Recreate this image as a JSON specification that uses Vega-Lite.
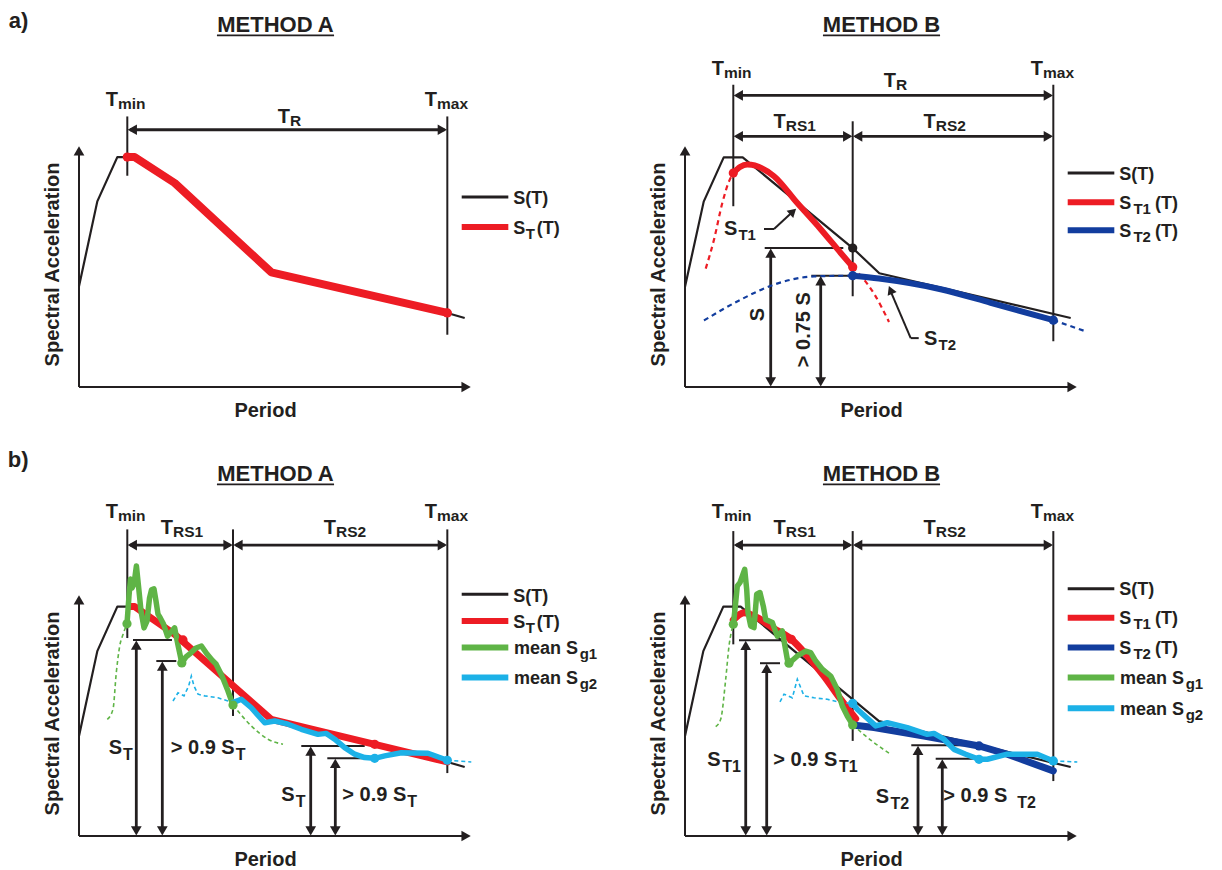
{
"$schema":"https://vega.github.io/schema/vega-lite/v6.json",
"padding":{"left":7,"top":9,"right":0,"bottom":0},
"background":"white",
"config":{
 "view":{"stroke":null},
 "font":"Liberation Sans",
 "axis":{"titleFont":"Liberation Sans","titleFontSize":20,"titleFontWeight":"bold","titleColor":"#231f20","domain":false,"ticks":false,"labels":false,"grid":false},
 "text":{"font":"Liberation Sans","fontWeight":"bold","color":"#231f20"}
},
"columns":2,
"spacing":{"row":207,"column":213},
"bounds":"flush",
"datasets":{
 "aA_r":[
  {"k":"line","x":0,"y":0,"x2":0,"y2":9.7},{"k":"line","x":0,"y":0,"x2":9.8,"y2":0},
  {"k":"line","x":1.229,"y":8.73,"x2":1.229,"y2":11.18},{"k":"line","x":9.372,"y":2.16,"x2":9.372,"y2":11.18},
  {"k":"arrow","x":1.3,"y":10.63,"x2":9.3,"y2":10.63},
  {"k":"ul","x":3.51,"y":14.53,"x2":6.49,"y2":14.53}],
 "aA_h":[
  {"dir":"up","x":0,"y":9.76},{"dir":"right","x":9.85,"y":0},
  {"dir":"left","x":1.356,"y":10.63},{"dir":"right","x":9.245,"y":10.63}],
 "aA_l":[
  {"s":"S","x":0,"y":4.16},{"s":"S","x":0.466,"y":7.67},{"s":"S","x":0.975,"y":9.5},{"s":"S","x":1.417,"y":9.5},{"s":"S","x":2.435,"y":8.43},{"s":"S","x":4.893,"y":4.74},{"s":"S","x":9.372,"y":3.06},{"s":"S","x":9.814,"y":2.85},
  {"s":"ST","x":1.229,"y":9.5},{"s":"ST","x":1.417,"y":9.5},{"s":"ST","x":2.435,"y":8.43},{"s":"ST","x":4.893,"y":4.74},{"s":"ST","x":9.372,"y":3.06}],
 "aA_d":[{"s":"ST","x":1.229,"y":9.5},{"s":"ST","x":9.372,"y":3.06}],
 "aA_g":[{"s":"S","x":9.738,"x2":10.924,"y":7.85},{"s":"ST","x":9.738,"x2":10.924,"y":6.61}],
 "aA_t":[
  {"p":"tag","t":"a)","x":-1.789,"y":14.85},
  {"p":"head","t":"METHOD A","x":5.0,"y":14.68},
  {"p":"R","t":"T","x":0.992,"y":11.63},{"p":"t","t":"min","x":0.992,"y":11.63},
  {"p":"R","t":"T","x":5.369,"y":10.91},{"p":"t","t":"R","x":5.369,"y":10.91},
  {"p":"R","t":"T","x":9.109,"y":11.63},{"p":"t","t":"max","x":9.109,"y":11.63},
  {"p":"L","t":"S(T)","x":11.051,"y":7.58},
  {"p":"L","t":"S","x":11.051,"y":6.34},{"p":"s","t":"T","x":11.37,"y":6.34},{"p":"L","t":"(T)","x":11.65,"y":6.34}],
 "aB_r":[
  {"k":"line","x":0,"y":0,"x2":0,"y2":9.7},{"k":"line","x":0,"y":0,"x2":9.8,"y2":0},
  {"k":"line","x":1.229,"y":7.47,"x2":1.229,"y2":12.49},{"k":"line","x":4.267,"y":3.75,"x2":4.267,"y2":10.98},{"k":"line","x":9.372,"y":1.89,"x2":9.372,"y2":12.49},
  {"k":"arrow","x":1.3,"y":12.05,"x2":9.3,"y2":12.05},
  {"k":"arrow","x":1.3,"y":10.36,"x2":4.2,"y2":10.36},{"k":"arrow","x":4.33,"y":10.36,"x2":9.3,"y2":10.36},
  {"k":"arrow","x":2.181,"y":0.2,"x2":2.181,"y2":5.55},{"k":"arrow","x":3.453,"y":0.2,"x2":3.453,"y2":4.4},
  {"k":"line","x":2.028,"y":5.74,"x2":4.028,"y2":5.74},{"k":"line","x":3.214,"y":4.6,"x2":4.267,"y2":4.6},
  {"k":"line","x":2.01,"y":6.53,"x2":2.265,"y2":6.53},{"k":"line","x":2.265,"y":6.53,"x2":2.76,"y2":7.27},
  {"k":"line","x":5.947,"y":2.02,"x2":5.743,"y2":2.02},{"k":"line","x":5.743,"y":2.02,"x2":5.22,"y2":4.0},
  {"k":"ul","x":3.51,"y":14.53,"x2":6.49,"y2":14.53}],
 "aB_h":[
  {"dir":"up","x":0,"y":9.76},{"dir":"right","x":9.85,"y":0},
  {"dir":"left","x":1.356,"y":12.05},{"dir":"right","x":9.245,"y":12.05},
  {"dir":"left","x":1.356,"y":10.36},{"dir":"right","x":4.14,"y":10.36},
  {"dir":"left","x":4.394,"y":10.36},{"dir":"right","x":9.245,"y":10.36},
  {"dir":"down","x":2.181,"y":0.21},{"dir":"up","x":2.181,"y":5.53},
  {"dir":"down","x":3.453,"y":0.21},{"dir":"up","x":3.453,"y":4.39},
  {"dir":"ne","x":2.748,"y":7.25},{"dir":"nw","x":5.229,"y":4.01}],
 "aB_l":[
  {"s":"S","x":0,"y":4.14},{"s":"S","x":0.476,"y":7.66},{"s":"S","x":0.985,"y":9.49},{"s":"S","x":1.468,"y":9.49},{"s":"S","x":4.267,"y":5.74},{"s":"S","x":4.944,"y":4.7},{"s":"S","x":9.814,"y":2.85},
  {"s":"ST1x","x":0.527,"y":4.89},{"s":"ST1x","x":0.738,"y":6.09},{"s":"ST1x","x":0.949,"y":7.6},{"s":"ST1x","x":1.12,"y":8.5},{"s":"ST1x","x":1.229,"y":8.84},
  {"s":"ST1","x":1.229,"y":8.84},{"s":"ST1","x":1.399,"y":9.09},{"s":"ST1","x":1.585,"y":9.19},{"s":"ST1","x":2.265,"y":8.71},{"s":"ST1","x":2.858,"y":7.6},{"s":"ST1","x":3.453,"y":6.52},{"s":"ST1","x":3.962,"y":5.54},{"s":"ST1","x":4.267,"y":4.96},
  {"s":"ST1y","x":4.267,"y":4.96},{"s":"ST1y","x":4.809,"y":3.86},{"s":"ST1y","x":5.191,"y":2.69},
  {"s":"ST2x","x":0.483,"y":2.75},{"s":"ST2x","x":1.417,"y":3.61},{"s":"ST2x","x":2.265,"y":4.23},{"s":"ST2x","x":3.282,"y":4.57},{"s":"ST2x","x":4.267,"y":4.6},
  {"s":"ST2","x":4.267,"y":4.6},{"s":"ST2","x":4.936,"y":4.48},{"s":"ST2","x":6.506,"y":4.04},{"s":"ST2","x":7.779,"y":3.48},{"s":"ST2","x":9.372,"y":2.76},
  {"s":"ST2y","x":9.372,"y":2.76},{"s":"ST2y","x":10.196,"y":2.3}],
 "aB_d":[{"s":"S","x":4.267,"y":5.74},{"s":"ST","x":1.229,"y":8.84},{"s":"ST","x":4.267,"y":4.96},{"s":"ST2","x":4.267,"y":4.6},{"s":"ST2","x":9.372,"y":2.76}],
 "aB_g":[{"s":"S","x":9.738,"x2":10.924,"y":8.84},{"s":"ST","x":9.738,"x2":10.924,"y":7.63},{"s":"ST2","x":9.738,"x2":10.924,"y":6.48}],
 "aB_t":[
  {"p":"head","t":"METHOD B","x":5.0,"y":14.68},
  {"p":"R","t":"T","x":0.992,"y":12.91},{"p":"t","t":"min","x":0.992,"y":12.91},
  {"p":"R","t":"T","x":5.369,"y":12.41},{"p":"t","t":"R","x":5.369,"y":12.41},
  {"p":"R","t":"T","x":9.109,"y":12.91},{"p":"t","t":"max","x":9.109,"y":12.91},
  {"p":"R","t":"T","x":2.562,"y":10.7},{"p":"t","t":"RS1","x":2.562,"y":10.7},
  {"p":"R","t":"T","x":6.379,"y":10.7},{"p":"t","t":"RS2","x":6.379,"y":10.7},
  {"p":"R","t":"S","x":1.331,"y":6.29},{"p":"s","t":"T1","x":1.36,"y":6.29},
  {"p":"R","t":"S","x":6.42,"y":1.75},{"p":"s","t":"T2","x":6.45,"y":1.75},
  {"p":"rot","t":"S","x":1.85,"y":2.99},{"p":"rot","t":"> 0.75 S","x":3.036,"y":2.37},
  {"p":"L","t":"S(T)","x":11.051,"y":8.57},
  {"p":"L","t":"S","x":11.051,"y":7.36},{"p":"s","t":"T1","x":11.41,"y":7.36},{"p":"L","t":"(T)","x":11.96,"y":7.36},
  {"p":"L","t":"S","x":11.051,"y":6.2},{"p":"s","t":"T2","x":11.41,"y":6.2},{"p":"L","t":"(T)","x":11.96,"y":6.2}],
 "bA_r":[
  {"k":"line","x":0,"y":0,"x2":0,"y2":9.7},{"k":"line","x":0,"y":0,"x2":9.8,"y2":0},
  {"k":"line","x":1.229,"y":8.18,"x2":1.229,"y2":12.67},{"k":"line","x":3.919,"y":4.96,"x2":3.919,"y2":12.67},{"k":"line","x":9.372,"y":2.6,"x2":9.372,"y2":12.67},
  {"k":"arrow","x":1.3,"y":12.02,"x2":3.85,"y2":12.02},{"k":"arrow","x":3.99,"y":12.02,"x2":9.3,"y2":12.02},
  {"k":"arrow","x":1.458,"y":0.2,"x2":1.458,"y2":7.9},{"k":"arrow","x":2.12,"y":0.2,"x2":2.12,"y2":7.03},
  {"k":"arrow","x":5.896,"y":0.2,"x2":5.896,"y2":3.52},{"k":"arrow","x":6.522,"y":0.2,"x2":6.522,"y2":3.01},
  {"k":"line","x":1.374,"y":8.1,"x2":2.366,"y2":8.1},{"k":"line","x":1.967,"y":7.23,"x2":2.476,"y2":7.23},
  {"k":"line","x":5.656,"y":3.72,"x2":7.27,"y2":3.72},{"k":"line","x":6.318,"y":3.21,"x2":7.438,"y2":3.21},
  {"k":"ul","x":3.51,"y":14.53,"x2":6.49,"y2":14.53}],
 "bA_h":[
  {"dir":"up","x":0,"y":9.76},{"dir":"right","x":9.85,"y":0},
  {"dir":"left","x":1.356,"y":12.02},{"dir":"right","x":3.792,"y":12.02},
  {"dir":"left","x":4.046,"y":12.02},{"dir":"right","x":9.245,"y":12.02},
  {"dir":"down","x":1.458,"y":0.21},{"dir":"up","x":1.458,"y":7.89},
  {"dir":"down","x":2.12,"y":0.21},{"dir":"up","x":2.12,"y":7.02},
  {"dir":"down","x":5.896,"y":0.21},{"dir":"up","x":5.896,"y":3.51},
  {"dir":"down","x":6.522,"y":0.21},{"dir":"up","x":6.522,"y":3.0}],
 "bA_l":[
  {"s":"S","x":0,"y":4.13},{"s":"S","x":0.466,"y":7.64},{"s":"S","x":0.975,"y":9.48},{"s":"S","x":1.417,"y":9.48},{"s":"S","x":2.435,"y":8.33},{"s":"S","x":4.893,"y":4.82},{"s":"S","x":9.372,"y":3.06},{"s":"S","x":9.814,"y":2.85},
  {"s":"ST","x":1.29,"y":9.48},{"s":"ST","x":1.417,"y":9.48},{"s":"ST","x":2.435,"y":8.33},{"s":"ST","x":4.893,"y":4.82},{"s":"ST","x":9.372,"y":3.06},
  {"s":"Sg1x","x":0.72,"y":4.82},{"s":"Sg1x","x":0.865,"y":5.24},{"s":"Sg1x","x":0.949,"y":6.75},{"s":"Sg1x","x":1.036,"y":7.85},{"s":"Sg1x","x":1.12,"y":8.33},{"s":"Sg1x","x":1.221,"y":8.77},
  {"s":"Sg1","x":1.221,"y":8.76},{"s":"Sg1","x":1.272,"y":9.92},{"s":"Sg1","x":1.31,"y":10.62},{"s":"Sg1","x":1.349,"y":10.25},{"s":"Sg1","x":1.399,"y":10.41},{"s":"Sg1","x":1.461,"y":11.16},{"s":"Sg1","x":1.514,"y":10.33},{"s":"Sg1","x":1.578,"y":9.3},{"s":"Sg1","x":1.654,"y":8.6},{"s":"Sg1","x":1.73,"y":8.88},{"s":"Sg1","x":1.794,"y":9.83},{"s":"Sg1","x":1.845,"y":10.17},{"s":"Sg1","x":1.908,"y":10.21},{"s":"Sg1","x":1.959,"y":9.71},{"s":"Sg1","x":2.01,"y":9.17},{"s":"Sg1","x":2.069,"y":9.01},{"s":"Sg1","x":2.15,"y":8.76},{"s":"Sg1","x":2.252,"y":8.26},{"s":"Sg1","x":2.341,"y":8.43},{"s":"Sg1","x":2.433,"y":8.6},{"s":"Sg1","x":2.524,"y":7.85},{"s":"Sg1","x":2.616,"y":7.15},{"s":"Sg1","x":2.723,"y":7.4},{"s":"Sg1","x":2.842,"y":7.56},{"s":"Sg1","x":2.977,"y":7.77},{"s":"Sg1","x":3.115,"y":7.85},{"s":"Sg1","x":3.257,"y":7.52},{"s":"Sg1","x":3.384,"y":7.27},{"s":"Sg1","x":3.486,"y":7.11},{"s":"Sg1","x":3.639,"y":6.61},{"s":"Sg1","x":3.791,"y":5.99},{"s":"Sg1","x":3.919,"y":5.41},
  {"s":"Sg1y","x":3.919,"y":5.41},{"s":"Sg1y","x":4.384,"y":4.55},{"s":"Sg1y","x":4.809,"y":4.0},{"s":"Sg1y","x":5.191,"y":3.79},
  {"s":"Sg2x","x":2.392,"y":5.58},{"s":"Sg2x","x":2.519,"y":5.92},{"s":"Sg2x","x":2.672,"y":5.79},{"s":"Sg2x","x":2.791,"y":6.2},{"s":"Sg2x","x":2.858,"y":6.61},{"s":"Sg2x","x":2.926,"y":6.2},{"s":"Sg2x","x":3.028,"y":5.86},{"s":"Sg2x","x":3.198,"y":5.79},{"s":"Sg2x","x":3.537,"y":5.71},{"s":"Sg2x","x":3.791,"y":5.58},{"s":"Sg2x","x":3.919,"y":5.51},
  {"s":"Sg2","x":3.919,"y":5.51},{"s":"Sg2","x":4.13,"y":5.65},{"s":"Sg2","x":4.384,"y":5.3},{"s":"Sg2","x":4.725,"y":4.68},{"s":"Sg2","x":4.98,"y":4.75},{"s":"Sg2","x":5.318,"y":4.62},{"s":"Sg2","x":5.656,"y":4.41},{"s":"Sg2","x":6.081,"y":4.2},{"s":"Sg2","x":6.293,"y":4.24},{"s":"Sg2","x":6.506,"y":4.0},{"s":"Sg2","x":6.761,"y":3.65},{"s":"Sg2","x":7.015,"y":3.38},{"s":"Sg2","x":7.27,"y":3.24},{"s":"Sg2","x":7.524,"y":3.21},{"s":"Sg2","x":7.779,"y":3.31},{"s":"Sg2","x":8.201,"y":3.44},{"s":"Sg2","x":8.88,"y":3.42},{"s":"Sg2","x":9.372,"y":3.13},
  {"s":"Sg2y","x":9.372,"y":3.13},{"s":"Sg2y","x":9.982,"y":3.06}],
 "bA_d":[{"s":"ST","x":2.646,"y":8.1},{"s":"ST","x":7.524,"y":3.79},{"s":"Sg1","x":1.221,"y":8.77},{"s":"Sg1","x":2.616,"y":7.15},{"s":"Sg1","x":3.919,"y":5.41},{"s":"Sg2","x":7.524,"y":3.21},{"s":"Sg2","x":9.372,"y":3.13}],
 "bA_g":[{"s":"S","x":9.738,"x2":10.924,"y":9.99},{"s":"ST","x":9.738,"x2":10.924,"y":8.88},{"s":"Sg1","x":9.738,"x2":10.924,"y":7.79},{"s":"Sg2","x":9.738,"x2":10.924,"y":6.55}],
 "bA_t":[
  {"p":"tag","t":"b)","x":-1.81,"y":15.24},
  {"p":"head","t":"METHOD A","x":5.0,"y":14.68},
  {"p":"R","t":"T","x":0.992,"y":13.12},{"p":"t","t":"min","x":0.992,"y":13.12},
  {"p":"R","t":"T","x":2.392,"y":12.5},{"p":"t","t":"RS1","x":2.392,"y":12.5},
  {"p":"R","t":"T","x":6.539,"y":12.5},{"p":"t","t":"RS2","x":6.539,"y":12.5},
  {"p":"R","t":"T","x":9.109,"y":13.12},{"p":"t","t":"max","x":9.109,"y":13.12},
  {"p":"RB","t":"S","x":1.094,"y":3.37},{"p":"s2","t":"T","x":1.12,"y":3.37},
  {"p":"RB","t":"> 0.9 S","x":3.962,"y":3.37},{"p":"s2","t":"T","x":3.99,"y":3.37},
  {"p":"RB","t":"S","x":5.489,"y":1.45},{"p":"s2","t":"T","x":5.515,"y":1.45},
  {"p":"RB","t":"> 0.9 S","x":8.328,"y":1.45},{"p":"s2","t":"T","x":8.355,"y":1.45},
  {"p":"L","t":"S(T)","x":11.051,"y":9.67},
  {"p":"L","t":"S","x":11.051,"y":8.61},{"p":"s","t":"T","x":11.37,"y":8.61},{"p":"L","t":"(T)","x":11.65,"y":8.61},
  {"p":"L","t":"mean S","x":11.07,"y":7.51},{"p":"s","t":"g1","x":12.74,"y":7.51},
  {"p":"L","t":"mean S","x":11.07,"y":6.27},{"p":"s","t":"g2","x":12.74,"y":6.27}],
 "bB_r":[
  {"k":"line","x":0,"y":0,"x2":0,"y2":9.7},{"k":"line","x":0,"y":0,"x2":9.8,"y2":0},
  {"k":"line","x":1.229,"y":7.92,"x2":1.229,"y2":12.6},{"k":"line","x":4.267,"y":3.93,"x2":4.267,"y2":12.6},{"k":"line","x":9.372,"y":2.27,"x2":9.372,"y2":12.6},
  {"k":"arrow","x":1.3,"y":12.02,"x2":4.2,"y2":12.02},{"k":"arrow","x":4.33,"y":12.02,"x2":9.3,"y2":12.02},
  {"k":"arrow","x":1.545,"y":0.2,"x2":1.545,"y2":7.89},{"k":"arrow","x":2.079,"y":0.2,"x2":2.079,"y2":6.94},
  {"k":"arrow","x":5.929,"y":0.2,"x2":5.929,"y2":3.55},{"k":"arrow","x":6.547,"y":0.2,"x2":6.547,"y2":2.99},
  {"k":"line","x":1.374,"y":8.09,"x2":2.435,"y2":8.09},{"k":"line","x":1.908,"y":7.14,"x2":2.417,"y2":7.14},
  {"k":"line","x":5.758,"y":3.75,"x2":7.354,"y2":3.75},{"k":"line","x":6.379,"y":3.19,"x2":7.354,"y2":3.19},
  {"k":"ul","x":3.51,"y":14.53,"x2":6.49,"y2":14.53}],
 "bB_h":[
  {"dir":"up","x":0,"y":9.76},{"dir":"right","x":9.85,"y":0},
  {"dir":"left","x":1.356,"y":12.02},{"dir":"right","x":4.14,"y":12.02},
  {"dir":"left","x":4.394,"y":12.02},{"dir":"right","x":9.245,"y":12.02},
  {"dir":"down","x":1.545,"y":0.21},{"dir":"up","x":1.545,"y":7.88},
  {"dir":"down","x":2.079,"y":0.21},{"dir":"up","x":2.079,"y":6.93},
  {"dir":"down","x":5.929,"y":0.21},{"dir":"up","x":5.929,"y":3.54},
  {"dir":"down","x":6.547,"y":0.21},{"dir":"up","x":6.547,"y":2.98}],
 "bB_l":[
  {"s":"S","x":0,"y":4.13},{"s":"S","x":0.466,"y":7.64},{"s":"S","x":0.975,"y":9.48},{"s":"S","x":1.417,"y":9.48},{"s":"S","x":4.936,"y":4.75},{"s":"S","x":9.814,"y":2.85},
  {"s":"ST1","x":1.229,"y":8.93},{"s":"ST1","x":1.501,"y":9.23},{"s":"ST1","x":1.84,"y":9.02},{"s":"ST1","x":2.265,"y":8.57},{"s":"ST1","x":2.705,"y":8.13},{"s":"ST1","x":3.112,"y":7.44},{"s":"ST1","x":3.537,"y":6.61},{"s":"ST1","x":3.962,"y":5.65},{"s":"ST1","x":4.344,"y":4.85},
  {"s":"ST2","x":4.267,"y":4.59},{"s":"ST2","x":4.809,"y":4.48},{"s":"ST2","x":6.081,"y":4.13},{"s":"ST2","x":7.481,"y":3.72},{"s":"ST2","x":8.201,"y":3.38},{"s":"ST2","x":9.372,"y":2.69},
  {"s":"Sg1x","x":0.781,"y":4.52},{"s":"Sg1x","x":0.908,"y":4.82},{"s":"Sg1x","x":1.036,"y":6.48},{"s":"Sg1x","x":1.12,"y":7.85},{"s":"Sg1x","x":1.229,"y":8.75},
  {"s":"Sg1","x":1.229,"y":8.71},{"s":"Sg1","x":1.272,"y":9.37},{"s":"Sg1","x":1.331,"y":10.33},{"s":"Sg1","x":1.399,"y":10.47},{"s":"Sg1","x":1.458,"y":10.74},{"s":"Sg1","x":1.519,"y":11.02},{"s":"Sg1","x":1.57,"y":10.19},{"s":"Sg1","x":1.603,"y":9.23},{"s":"Sg1","x":1.672,"y":8.68},{"s":"Sg1","x":1.756,"y":8.61},{"s":"Sg1","x":1.824,"y":9.99},{"s":"Sg1","x":1.908,"y":10.06},{"s":"Sg1","x":1.992,"y":9.5},{"s":"Sg1","x":2.053,"y":8.95},{"s":"Sg1","x":2.221,"y":8.82},{"s":"Sg1","x":2.349,"y":8.26},{"s":"Sg1","x":2.476,"y":8.47},{"s":"Sg1","x":2.603,"y":7.3},{"s":"Sg1","x":2.672,"y":7.17},{"s":"Sg1","x":2.858,"y":7.44},{"s":"Sg1","x":3.071,"y":7.64},{"s":"Sg1","x":3.198,"y":7.58},{"s":"Sg1","x":3.326,"y":7.23},{"s":"Sg1","x":3.494,"y":6.89},{"s":"Sg1","x":3.707,"y":6.61},{"s":"Sg1","x":3.875,"y":6.06},{"s":"Sg1","x":4.003,"y":5.37},{"s":"Sg1","x":4.13,"y":4.96},{"s":"Sg1","x":4.267,"y":4.59},
  {"s":"Sg1y","x":4.267,"y":4.59},{"s":"Sg1y","x":4.809,"y":3.86},{"s":"Sg1y","x":5.191,"y":3.42},
  {"s":"Sg2x","x":2.417,"y":5.54},{"s":"Sg2x","x":2.519,"y":5.86},{"s":"Sg2x","x":2.73,"y":5.71},{"s":"Sg2x","x":2.858,"y":6.48},{"s":"Sg2x","x":3.028,"y":5.79},{"s":"Sg2x","x":3.282,"y":5.71},{"s":"Sg2x","x":3.621,"y":5.65},{"s":"Sg2x","x":3.962,"y":5.51},{"s":"Sg2x","x":4.267,"y":5.48},
  {"s":"Sg2","x":4.267,"y":5.48},{"s":"Sg2","x":4.384,"y":5.24},{"s":"Sg2","x":4.852,"y":4.55},{"s":"Sg2","x":5.148,"y":4.68},{"s":"Sg2","x":5.656,"y":4.48},{"s":"Sg2","x":6.165,"y":4.2},{"s":"Sg2","x":6.336,"y":4.24},{"s":"Sg2","x":6.59,"y":4.0},{"s":"Sg2","x":6.845,"y":3.58},{"s":"Sg2","x":7.142,"y":3.38},{"s":"Sg2","x":7.481,"y":3.17},{"s":"Sg2","x":7.692,"y":3.17},{"s":"Sg2","x":8.201,"y":3.38},{"s":"Sg2","x":8.964,"y":3.38},{"s":"Sg2","x":9.372,"y":3.1},
  {"s":"Sg2y","x":9.372,"y":3.1},{"s":"Sg2y","x":9.982,"y":3.06}],
 "bB_d":[{"s":"ST","x":2.705,"y":8.13},{"s":"ST2","x":7.481,"y":3.72},{"s":"Sg1","x":1.229,"y":8.75},{"s":"Sg1","x":2.646,"y":7.14},{"s":"Sg1","x":4.267,"y":4.59},{"s":"Sg2","x":4.267,"y":5.48},{"s":"Sg2","x":7.481,"y":3.17},{"s":"Sg2","x":9.372,"y":3.1}],
 "bB_g":[{"s":"S","x":9.738,"x2":10.924,"y":10.22},{"s":"ST","x":9.738,"x2":10.924,"y":9.02},{"s":"ST2","x":9.738,"x2":10.924,"y":7.79},{"s":"Sg1","x":9.738,"x2":10.924,"y":6.55},{"s":"Sg2","x":9.738,"x2":10.924,"y":5.28}],
 "bB_t":[
  {"p":"head","t":"METHOD B","x":5.0,"y":14.68},
  {"p":"R","t":"T","x":0.992,"y":13.12},{"p":"t","t":"min","x":0.992,"y":13.12},
  {"p":"R","t":"T","x":2.562,"y":12.5},{"p":"t","t":"RS1","x":2.562,"y":12.5},
  {"p":"R","t":"T","x":6.379,"y":12.5},{"p":"t","t":"RS2","x":6.379,"y":12.5},
  {"p":"R","t":"T","x":9.109,"y":13.12},{"p":"t","t":"max","x":9.109,"y":13.12},
  {"p":"RB","t":"S","x":0.908,"y":2.89},{"p":"s2","t":"T1","x":0.95,"y":2.89},
  {"p":"RB","t":"> 0.9 S","x":3.875,"y":2.89},{"p":"s2","t":"T1","x":3.919,"y":2.89},
  {"p":"RB","t":"S","x":5.191,"y":1.38},{"p":"s2","t":"T2","x":5.23,"y":1.38},
  {"p":"RB","t":"> 0.9 S","x":8.201,"y":1.4},{"p":"s2","t":"T2","x":8.456,"y":1.4},
  {"p":"L","t":"S(T)","x":11.051,"y":9.95},
  {"p":"L","t":"S","x":11.051,"y":8.75},{"p":"s","t":"T1","x":11.41,"y":8.75},{"p":"L","t":"(T)","x":11.96,"y":8.75},
  {"p":"L","t":"S","x":11.051,"y":7.51},{"p":"s","t":"T2","x":11.41,"y":7.51},{"p":"L","t":"(T)","x":11.96,"y":7.51},
  {"p":"L","t":"mean S","x":11.07,"y":6.27},{"p":"s","t":"g1","x":12.74,"y":6.27},
  {"p":"L","t":"mean S","x":11.07,"y":5.0},{"p":"s","t":"g2","x":12.74,"y":5.0}]
},
"concat":[
{
 "width":393,"height":242,
 "encoding":{
  "x":{"field":"x","type":"quantitative","scale":{"domain":[0,10],"nice":false,"zero":false},"axis":{"title":"Period","titleX":186,"titleY":29,"titleBaseline":"alphabetic","titleAlign":"center","titleAngle":0}},
  "y":{"field":"y","type":"quantitative","scale":{"domain":[0,10],"nice":false,"zero":false},"axis":{"title":"Spectral Acceleration","titleX":-21,"titleY":119,"titleAngle":270,"titleBaseline":"alphabetic","titleAlign":"center"}}
 },
 "layer":[
  {"data":{"name":"aA_r"},"transform":[{"filter":"datum.k==='line'"}],"mark":{"type":"rule","color":"#231f20","strokeWidth":2},"encoding":{"x2":{"field":"x2"},"y2":{"field":"y2"}}},
  {"data":{"name":"aA_r"},"transform":[{"filter":"datum.k==='arrow'"}],"mark":{"type":"rule","color":"#231f20","strokeWidth":2.8},"encoding":{"x2":{"field":"x2"},"y2":{"field":"y2"}}},
  {"data":{"name":"aA_r"},"transform":[{"filter":"datum.k==='ul'"}],"mark":{"type":"rule","color":"#231f20","strokeWidth":1.6},"encoding":{"x2":{"field":"x2"},"y2":{"field":"y2"}}},
  {"data":{"name":"aA_l"},"transform":[{"filter":"datum.s==='S'"}],"mark":{"type":"line","color":"#231f20","strokeWidth":2.2,"strokeJoin":"round"},"encoding":{}},
  {"data":{"name":"aA_l"},"transform":[{"filter":"datum.s==='ST'"}],"mark":{"type":"line","color":"#ed1c24","strokeWidth":8,"strokeJoin":"round","strokeCap":"round"},"encoding":{}},
  {"data":{"name":"aA_g"},"transform":[{"filter":"datum.s==='S'"}],"mark":{"type":"rule","color":"#231f20","strokeWidth":3},"encoding":{"x2":{"field":"x2"}}},
  {"data":{"name":"aA_g"},"transform":[{"filter":"datum.s!=='S'"}],"mark":{"type":"rule","strokeWidth":6},"encoding":{"x2":{"field":"x2"},"color":{"field":"s","type":"nominal","scale":{"domain":["S","ST","ST2","Sg1","Sg2"],"range":["#231f20","#ed1c24","#123d9e","#5fb446","#1cb1e7"]},"legend":null}}},
  {"data":{"name":"aA_d"},"mark":{"type":"point","filled":true,"size":85,"opacity":1},"encoding":{"color":{"field":"s","type":"nominal","scale":{"domain":["S","ST","ST2","Sg1","Sg2"],"range":["#231f20","#ed1c24","#123d9e","#5fb446","#1cb1e7"]},"legend":null}}},
  {"data":{"name":"aA_h"},"mark":{"type":"point","filled":true,"size":115,"opacity":1,"color":"#231f20"},"encoding":{"shape":{"field":"dir","type":"nominal","scale":{"domain":["up","down","left","right"],"range":["triangle-up","triangle-down","triangle-left","triangle-right"]},"legend":null}}},
  {"data":{"name":"aA_t"},"transform":[{"filter":"datum.p==='tag'"}],"mark":{"type":"text","align":"left","baseline":"alphabetic","fontSize":22},"encoding":{"text":{"field":"t"}}},
  {"data":{"name":"aA_t"},"transform":[{"filter":"datum.p==='head'"}],"mark":{"type":"text","align":"center","baseline":"alphabetic","fontSize":22},"encoding":{"text":{"field":"t"}}},
  {"data":{"name":"aA_t"},"transform":[{"filter":"datum.p==='R'"}],"mark":{"type":"text","align":"right","baseline":"alphabetic","fontSize":20},"encoding":{"text":{"field":"t"}}},
  {"data":{"name":"aA_t"},"transform":[{"filter":"datum.p==='L'"}],"mark":{"type":"text","align":"left","baseline":"alphabetic","fontSize":18},"encoding":{"text":{"field":"t"}}},
  {"data":{"name":"aA_t"},"transform":[{"filter":"datum.p==='t'"}],"mark":{"type":"text","align":"left","baseline":"alphabetic","fontSize":15.5,"dy":3},"encoding":{"text":{"field":"t"}}},
  {"data":{"name":"aA_t"},"transform":[{"filter":"datum.p==='s'"}],"mark":{"type":"text","align":"left","baseline":"alphabetic","fontSize":15,"dy":5},"encoding":{"text":{"field":"t"}}}
 ]
},
{
 "width":393,"height":242,
 "encoding":{
  "x":{"field":"x","type":"quantitative","scale":{"domain":[0,10],"nice":false,"zero":false},"axis":{"title":"Period","titleX":186,"titleY":29,"titleBaseline":"alphabetic","titleAlign":"center","titleAngle":0}},
  "y":{"field":"y","type":"quantitative","scale":{"domain":[0,10],"nice":false,"zero":false},"axis":{"title":"Spectral Acceleration","titleX":-21,"titleY":119,"titleAngle":270,"titleBaseline":"alphabetic","titleAlign":"center"}}
 },
 "layer":[
  {"data":{"name":"aB_r"},"transform":[{"filter":"datum.k==='line'"}],"mark":{"type":"rule","color":"#231f20","strokeWidth":2},"encoding":{"x2":{"field":"x2"},"y2":{"field":"y2"}}},
  {"data":{"name":"aB_r"},"transform":[{"filter":"datum.k==='arrow'"}],"mark":{"type":"rule","color":"#231f20","strokeWidth":2.8},"encoding":{"x2":{"field":"x2"},"y2":{"field":"y2"}}},
  {"data":{"name":"aB_r"},"transform":[{"filter":"datum.k==='ul'"}],"mark":{"type":"rule","color":"#231f20","strokeWidth":1.6},"encoding":{"x2":{"field":"x2"},"y2":{"field":"y2"}}},
  {"data":{"name":"aB_l"},"transform":[{"filter":"datum.s==='S'"}],"mark":{"type":"line","color":"#231f20","strokeWidth":2.2,"strokeJoin":"round"},"encoding":{}},
  {"data":{"name":"aB_l"},"transform":[{"filter":"datum.s==='ST1x' || datum.s==='ST1y'"}],"mark":{"type":"line","color":"#ed1c24","strokeWidth":2.2,"strokeDash":[5,4],"interpolate":"monotone"},"encoding":{"detail":{"field":"s"}}},
  {"data":{"name":"aB_l"},"transform":[{"filter":"datum.s==='ST2x' || datum.s==='ST2y'"}],"mark":{"type":"line","color":"#123d9e","strokeWidth":2.2,"strokeDash":[5,4],"interpolate":"monotone"},"encoding":{"detail":{"field":"s"}}},
  {"data":{"name":"aB_l"},"transform":[{"filter":"datum.s==='ST1'"}],"mark":{"type":"line","color":"#ed1c24","strokeWidth":6,"strokeCap":"round","interpolate":"monotone"},"encoding":{}},
  {"data":{"name":"aB_l"},"transform":[{"filter":"datum.s==='ST2'"}],"mark":{"type":"line","color":"#123d9e","strokeWidth":6,"strokeCap":"round","interpolate":"monotone"},"encoding":{}},
  {"data":{"name":"aB_g"},"transform":[{"filter":"datum.s==='S'"}],"mark":{"type":"rule","color":"#231f20","strokeWidth":3},"encoding":{"x2":{"field":"x2"}}},
  {"data":{"name":"aB_g"},"transform":[{"filter":"datum.s!=='S'"}],"mark":{"type":"rule","strokeWidth":6},"encoding":{"x2":{"field":"x2"},"color":{"field":"s","type":"nominal","scale":{"domain":["S","ST","ST2","Sg1","Sg2"],"range":["#231f20","#ed1c24","#123d9e","#5fb446","#1cb1e7"]},"legend":null}}},
  {"data":{"name":"aB_d"},"mark":{"type":"point","filled":true,"size":85,"opacity":1},"encoding":{"color":{"field":"s","type":"nominal","scale":{"domain":["S","ST","ST2","Sg1","Sg2"],"range":["#231f20","#ed1c24","#123d9e","#5fb446","#1cb1e7"]},"legend":null}}},
  {"data":{"name":"aB_h"},"transform":[{"filter":"datum.dir!=='ne' && datum.dir!=='nw'"}],"mark":{"type":"point","filled":true,"size":115,"opacity":1,"color":"#231f20"},"encoding":{"shape":{"field":"dir","type":"nominal","scale":{"domain":["up","down","left","right"],"range":["triangle-up","triangle-down","triangle-left","triangle-right"]},"legend":null}}},
  {"data":{"name":"aB_h"},"transform":[{"filter":"datum.dir==='ne'"}],"mark":{"type":"point","shape":"triangle-up","angle":47,"filled":true,"size":95,"opacity":1,"color":"#231f20"},"encoding":{}},
  {"data":{"name":"aB_h"},"transform":[{"filter":"datum.dir==='nw'"}],"mark":{"type":"point","shape":"triangle-up","angle":337,"filled":true,"size":95,"opacity":1,"color":"#231f20"},"encoding":{}},
  {"data":{"name":"aB_t"},"transform":[{"filter":"datum.p==='head'"}],"mark":{"type":"text","align":"center","baseline":"alphabetic","fontSize":22},"encoding":{"text":{"field":"t"}}},
  {"data":{"name":"aB_t"},"transform":[{"filter":"datum.p==='R'"}],"mark":{"type":"text","align":"right","baseline":"alphabetic","fontSize":20},"encoding":{"text":{"field":"t"}}},
  {"data":{"name":"aB_t"},"transform":[{"filter":"datum.p==='L'"}],"mark":{"type":"text","align":"left","baseline":"alphabetic","fontSize":18},"encoding":{"text":{"field":"t"}}},
  {"data":{"name":"aB_t"},"transform":[{"filter":"datum.p==='t'"}],"mark":{"type":"text","align":"left","baseline":"alphabetic","fontSize":15.5,"dy":3},"encoding":{"text":{"field":"t"}}},
  {"data":{"name":"aB_t"},"transform":[{"filter":"datum.p==='s'"}],"mark":{"type":"text","align":"left","baseline":"alphabetic","fontSize":15,"dy":5},"encoding":{"text":{"field":"t"}}},
  {"data":{"name":"aB_t"},"transform":[{"filter":"datum.p==='rot'"}],"mark":{"type":"text","align":"center","baseline":"middle","fontSize":20,"angle":270},"encoding":{"text":{"field":"t"}}}
 ]
},
{
 "width":393,"height":242,
 "encoding":{
  "x":{"field":"x","type":"quantitative","scale":{"domain":[0,10],"nice":false,"zero":false},"axis":{"title":"Period","titleX":186,"titleY":29,"titleBaseline":"alphabetic","titleAlign":"center","titleAngle":0}},
  "y":{"field":"y","type":"quantitative","scale":{"domain":[0,10],"nice":false,"zero":false},"axis":{"title":"Spectral Acceleration","titleX":-21,"titleY":119,"titleAngle":270,"titleBaseline":"alphabetic","titleAlign":"center"}}
 },
 "layer":[
  {"data":{"name":"bA_r"},"transform":[{"filter":"datum.k==='line'"}],"mark":{"type":"rule","color":"#231f20","strokeWidth":2},"encoding":{"x2":{"field":"x2"},"y2":{"field":"y2"}}},
  {"data":{"name":"bA_r"},"transform":[{"filter":"datum.k==='arrow'"}],"mark":{"type":"rule","color":"#231f20","strokeWidth":2.8},"encoding":{"x2":{"field":"x2"},"y2":{"field":"y2"}}},
  {"data":{"name":"bA_r"},"transform":[{"filter":"datum.k==='ul'"}],"mark":{"type":"rule","color":"#231f20","strokeWidth":1.6},"encoding":{"x2":{"field":"x2"},"y2":{"field":"y2"}}},
  {"data":{"name":"bA_l"},"transform":[{"filter":"datum.s==='S'"}],"mark":{"type":"line","color":"#231f20","strokeWidth":2.2,"strokeJoin":"round"},"encoding":{}},
  {"data":{"name":"bA_l"},"transform":[{"filter":"datum.s==='ST'"}],"mark":{"type":"line","color":"#ed1c24","strokeWidth":7,"strokeJoin":"round","strokeCap":"round"},"encoding":{}},
  {"data":{"name":"bA_l"},"transform":[{"filter":"datum.s==='Sg1x' || datum.s==='Sg1y'"}],"mark":{"type":"line","color":"#5fb446","strokeWidth":1.6,"strokeDash":[4,3],"interpolate":"monotone"},"encoding":{"detail":{"field":"s"}}},
  {"data":{"name":"bA_l"},"transform":[{"filter":"datum.s==='Sg2x' || datum.s==='Sg2y'"}],"mark":{"type":"line","color":"#1cb1e7","strokeWidth":1.6,"strokeDash":[4,3]},"encoding":{"detail":{"field":"s"}}},
  {"data":{"name":"bA_l"},"transform":[{"filter":"datum.s==='Sg1'"}],"mark":{"type":"line","color":"#5fb446","strokeWidth":5.5,"strokeJoin":"round","strokeCap":"round"},"encoding":{}},
  {"data":{"name":"bA_l"},"transform":[{"filter":"datum.s==='Sg2'"}],"mark":{"type":"line","color":"#1cb1e7","strokeWidth":5.5,"strokeJoin":"round","strokeCap":"round"},"encoding":{}},
  {"data":{"name":"bA_g"},"transform":[{"filter":"datum.s==='S'"}],"mark":{"type":"rule","color":"#231f20","strokeWidth":3},"encoding":{"x2":{"field":"x2"}}},
  {"data":{"name":"bA_g"},"transform":[{"filter":"datum.s!=='S'"}],"mark":{"type":"rule","strokeWidth":6},"encoding":{"x2":{"field":"x2"},"color":{"field":"s","type":"nominal","scale":{"domain":["S","ST","ST2","Sg1","Sg2"],"range":["#231f20","#ed1c24","#123d9e","#5fb446","#1cb1e7"]},"legend":null}}},
  {"data":{"name":"bA_d"},"mark":{"type":"point","filled":true,"size":85,"opacity":1},"encoding":{"color":{"field":"s","type":"nominal","scale":{"domain":["S","ST","ST2","Sg1","Sg2"],"range":["#231f20","#ed1c24","#123d9e","#5fb446","#1cb1e7"]},"legend":null}}},
  {"data":{"name":"bA_h"},"mark":{"type":"point","filled":true,"size":115,"opacity":1,"color":"#231f20"},"encoding":{"shape":{"field":"dir","type":"nominal","scale":{"domain":["up","down","left","right"],"range":["triangle-up","triangle-down","triangle-left","triangle-right"]},"legend":null}}},
  {"data":{"name":"bA_t"},"transform":[{"filter":"datum.p==='tag'"}],"mark":{"type":"text","align":"left","baseline":"alphabetic","fontSize":22},"encoding":{"text":{"field":"t"}}},
  {"data":{"name":"bA_t"},"transform":[{"filter":"datum.p==='head'"}],"mark":{"type":"text","align":"center","baseline":"alphabetic","fontSize":22},"encoding":{"text":{"field":"t"}}},
  {"data":{"name":"bA_t"},"transform":[{"filter":"datum.p==='R'"}],"mark":{"type":"text","align":"right","baseline":"alphabetic","fontSize":20},"encoding":{"text":{"field":"t"}}},
  {"data":{"name":"bA_t"},"transform":[{"filter":"datum.p==='L'"}],"mark":{"type":"text","align":"left","baseline":"alphabetic","fontSize":18},"encoding":{"text":{"field":"t"}}},
  {"data":{"name":"bA_t"},"transform":[{"filter":"datum.p==='t'"}],"mark":{"type":"text","align":"left","baseline":"alphabetic","fontSize":15.5,"dy":3},"encoding":{"text":{"field":"t"}}},
  {"data":{"name":"bA_t"},"transform":[{"filter":"datum.p==='s'"}],"mark":{"type":"text","align":"left","baseline":"alphabetic","fontSize":15,"dy":5},"encoding":{"text":{"field":"t"}}},
  {"data":{"name":"bA_t"},"transform":[{"filter":"datum.p==='RB'"}],"mark":{"type":"text","align":"right","baseline":"alphabetic","fontSize":20},"encoding":{"text":{"field":"t"}}},
  {"data":{"name":"bA_t"},"transform":[{"filter":"datum.p==='s2'"}],"mark":{"type":"text","align":"left","baseline":"alphabetic","fontSize":16,"dy":6},"encoding":{"text":{"field":"t"}}}
 ]
},
{
 "width":393,"height":242,
 "encoding":{
  "x":{"field":"x","type":"quantitative","scale":{"domain":[0,10],"nice":false,"zero":false},"axis":{"title":"Period","titleX":186,"titleY":29,"titleBaseline":"alphabetic","titleAlign":"center","titleAngle":0}},
  "y":{"field":"y","type":"quantitative","scale":{"domain":[0,10],"nice":false,"zero":false},"axis":{"title":"Spectral Acceleration","titleX":-21,"titleY":119,"titleAngle":270,"titleBaseline":"alphabetic","titleAlign":"center"}}
 },
 "layer":[
  {"data":{"name":"bB_r"},"transform":[{"filter":"datum.k==='line'"}],"mark":{"type":"rule","color":"#231f20","strokeWidth":2},"encoding":{"x2":{"field":"x2"},"y2":{"field":"y2"}}},
  {"data":{"name":"bB_r"},"transform":[{"filter":"datum.k==='arrow'"}],"mark":{"type":"rule","color":"#231f20","strokeWidth":2.8},"encoding":{"x2":{"field":"x2"},"y2":{"field":"y2"}}},
  {"data":{"name":"bB_r"},"transform":[{"filter":"datum.k==='ul'"}],"mark":{"type":"rule","color":"#231f20","strokeWidth":1.6},"encoding":{"x2":{"field":"x2"},"y2":{"field":"y2"}}},
  {"data":{"name":"bB_l"},"transform":[{"filter":"datum.s==='S'"}],"mark":{"type":"line","color":"#231f20","strokeWidth":2.2,"strokeJoin":"round"},"encoding":{}},
  {"data":{"name":"bB_l"},"transform":[{"filter":"datum.s==='ST1'"}],"mark":{"type":"line","color":"#ed1c24","strokeWidth":7,"strokeCap":"round","interpolate":"monotone"},"encoding":{}},
  {"data":{"name":"bB_l"},"transform":[{"filter":"datum.s==='ST2'"}],"mark":{"type":"line","color":"#123d9e","strokeWidth":7,"strokeCap":"round"},"encoding":{}},
  {"data":{"name":"bB_l"},"transform":[{"filter":"datum.s==='Sg1x' || datum.s==='Sg1y'"}],"mark":{"type":"line","color":"#5fb446","strokeWidth":1.6,"strokeDash":[4,3],"interpolate":"monotone"},"encoding":{"detail":{"field":"s"}}},
  {"data":{"name":"bB_l"},"transform":[{"filter":"datum.s==='Sg2x' || datum.s==='Sg2y'"}],"mark":{"type":"line","color":"#1cb1e7","strokeWidth":1.6,"strokeDash":[4,3]},"encoding":{"detail":{"field":"s"}}},
  {"data":{"name":"bB_l"},"transform":[{"filter":"datum.s==='Sg1'"}],"mark":{"type":"line","color":"#5fb446","strokeWidth":5.5,"strokeJoin":"round","strokeCap":"round"},"encoding":{}},
  {"data":{"name":"bB_l"},"transform":[{"filter":"datum.s==='Sg2'"}],"mark":{"type":"line","color":"#1cb1e7","strokeWidth":5.5,"strokeJoin":"round","strokeCap":"round"},"encoding":{}},
  {"data":{"name":"bB_g"},"transform":[{"filter":"datum.s==='S'"}],"mark":{"type":"rule","color":"#231f20","strokeWidth":3},"encoding":{"x2":{"field":"x2"}}},
  {"data":{"name":"bB_g"},"transform":[{"filter":"datum.s!=='S'"}],"mark":{"type":"rule","strokeWidth":6},"encoding":{"x2":{"field":"x2"},"color":{"field":"s","type":"nominal","scale":{"domain":["S","ST","ST2","Sg1","Sg2"],"range":["#231f20","#ed1c24","#123d9e","#5fb446","#1cb1e7"]},"legend":null}}},
  {"data":{"name":"bB_d"},"mark":{"type":"point","filled":true,"size":85,"opacity":1},"encoding":{"color":{"field":"s","type":"nominal","scale":{"domain":["S","ST","ST2","Sg1","Sg2"],"range":["#231f20","#ed1c24","#123d9e","#5fb446","#1cb1e7"]},"legend":null}}},
  {"data":{"name":"bB_h"},"mark":{"type":"point","filled":true,"size":115,"opacity":1,"color":"#231f20"},"encoding":{"shape":{"field":"dir","type":"nominal","scale":{"domain":["up","down","left","right"],"range":["triangle-up","triangle-down","triangle-left","triangle-right"]},"legend":null}}},
  {"data":{"name":"bB_t"},"transform":[{"filter":"datum.p==='head'"}],"mark":{"type":"text","align":"center","baseline":"alphabetic","fontSize":22},"encoding":{"text":{"field":"t"}}},
  {"data":{"name":"bB_t"},"transform":[{"filter":"datum.p==='R'"}],"mark":{"type":"text","align":"right","baseline":"alphabetic","fontSize":20},"encoding":{"text":{"field":"t"}}},
  {"data":{"name":"bB_t"},"transform":[{"filter":"datum.p==='L'"}],"mark":{"type":"text","align":"left","baseline":"alphabetic","fontSize":18},"encoding":{"text":{"field":"t"}}},
  {"data":{"name":"bB_t"},"transform":[{"filter":"datum.p==='t'"}],"mark":{"type":"text","align":"left","baseline":"alphabetic","fontSize":15.5,"dy":3},"encoding":{"text":{"field":"t"}}},
  {"data":{"name":"bB_t"},"transform":[{"filter":"datum.p==='s'"}],"mark":{"type":"text","align":"left","baseline":"alphabetic","fontSize":15,"dy":5},"encoding":{"text":{"field":"t"}}},
  {"data":{"name":"bB_t"},"transform":[{"filter":"datum.p==='RB'"}],"mark":{"type":"text","align":"right","baseline":"alphabetic","fontSize":20},"encoding":{"text":{"field":"t"}}},
  {"data":{"name":"bB_t"},"transform":[{"filter":"datum.p==='s2'"}],"mark":{"type":"text","align":"left","baseline":"alphabetic","fontSize":16,"dy":6},"encoding":{"text":{"field":"t"}}}
 ]
}
]
}
